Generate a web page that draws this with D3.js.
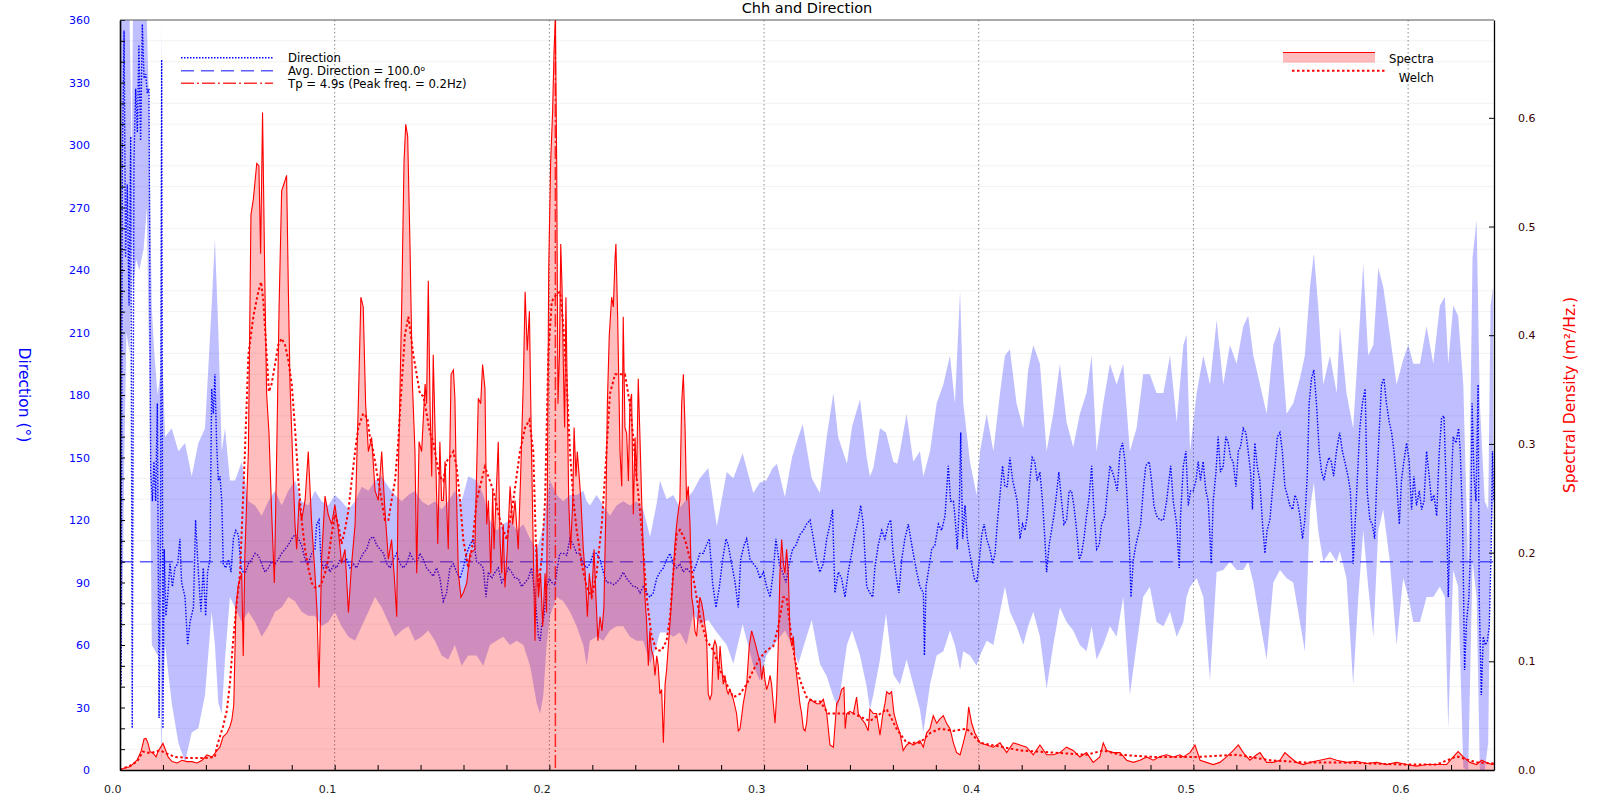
<!DOCTYPE html>
<html><head><meta charset="utf-8">
<script src="https://cdn.jsdelivr.net/npm/d3@7"></script>
<style>body{margin:0;background:#fff}svg{display:block}</style>
</head><body><svg id="c" width="1600" height="800"></svg>
<script>
// ---------- tick values / labels ----------
const freqTicks = [0,0.1,0.2,0.3,0.4,0.5,0.6];
const dirTicks = [0,30,60,90,120,150,180,210,240,270,300,330,360];
const specTicks = [0,0.1,0.2,0.3,0.4,0.5,0.6];
const titleText = "Chh and Direction";
const leftLegend = ["Direction","Avg. Direction = 100.0\u1d52","Tp = 4.9s (Peak freq. = 0.2Hz)"];
const rightLegend = ["Spectra","Welch"];
const avgDirection = [100];
const peakFreq = [0.2028];

// ---------- spectra [freq, m2/Hz] ----------
const spectraPts = [[0,0],[0.0023,0.002],[0.0047,0.003],[0.0079,0.009],[0.0098,0.017],[0.0112,0.0285],[0.0121,0.029],[0.0130,0.025],[0.0140,0.017],[0.0154,0.0155],[0.0168,0.012],[0.0177,0.017],[0.0191,0.0215],[0.0200,0.0245],[0.0210,0.0195],[0.0224,0.012],[0.0242,0.0077],[0.0266,0.0065],[0.0289,0.009],[0.0312,0.0077],[0.0335,0.0077],[0.0359,0.0065],[0.0382,0.009],[0.0405,0.0138],[0.0429,0.012],[0.0452,0.018],[0.0466,0.0215],[0.0480,0.0306],[0.0498,0.034],[0.0512,0.040],[0.0521,0.046],[0.0530,0.060],[0.0540,0.150],[0.0551,0.170],[0.0567,0.181],[0.0574,0.105],[0.0582,0.200],[0.0598,0.293],[0.0610,0.511],[0.0621,0.525],[0.0637,0.558],[0.0647,0.556],[0.0655,0.475],[0.0664,0.605],[0.0675,0.444],[0.0683,0.346],[0.0694,0.31],[0.0706,0.239],[0.0719,0.172],[0.0730,0.293],[0.0741,0.426],[0.0753,0.533],[0.0765,0.54],[0.0776,0.547],[0.0784,0.444],[0.0792,0.355],[0.0803,0.293],[0.0815,0.226],[0.0823,0.203],[0.0834,0.248],[0.0846,0.230],[0.0862,0.248],[0.0877,0.293],[0.0893,0.226],[0.0908,0.181],[0.0918,0.145],[0.0927,0.076],[0.0939,0.194],[0.0955,0.252],[0.0970,0.235],[0.0986,0.226],[0.1001,0.244],[0.1017,0.221],[0.1032,0.190],[0.1048,0.203],[0.1064,0.145],[0.1079,0.190],[0.1095,0.226],[0.1110,0.337],[0.1122,0.435],[0.1133,0.426],[0.1144,0.337],[0.1157,0.293],[0.1172,0.306],[0.1188,0.257],[0.1203,0.248],[0.1219,0.293],[0.1234,0.239],[0.1250,0.194],[0.1265,0.212],[0.1278,0.177],[0.1289,0.141],[0.1296,0.270],[0.1312,0.426],[0.1323,0.560],[0.1331,0.594],[0.1340,0.583],[0.1351,0.480],[0.1362,0.355],[0.1374,0.293],[0.1382,0.181],[0.1393,0.302],[0.1405,0.293],[0.1421,0.355],[0.1428,0.337],[0.1436,0.45],[0.1444,0.337],[0.1452,0.270],[0.1459,0.382],[0.1470,0.293],[0.1480,0.208],[0.1490,0.302],[0.1498,0.248],[0.1506,0.248],[0.1514,0.284],[0.1529,0.203],[0.1542,0.364],[0.1553,0.368],[0.1560,0.342],[0.1568,0.248],[0.1576,0.181],[0.1588,0.159],[0.1599,0.163],[0.1615,0.172],[0.1630,0.199],
[0.1653,0.203],[0.1669,0.342],[0.1680,0.337],[0.1689,0.373],[0.1700,0.351],[0.1708,0.226],[0.1716,0.248],[0.1727,0.181],[0.1736,0.257],[0.1742,0.203],[0.1751,0.248],[0.1762,0.302],[0.1770,0.212],[0.1778,0.181],[0.1785,0.226],[0.1793,0.168],[0.1804,0.203],[0.1817,0.261],[0.1829,0.226],[0.1840,0.248],[0.1855,0.203],[0.1866,0.270],[0.1879,0.360],[0.1887,0.440],[0.1897,0.386],[0.1907,0.422],[0.1916,0.302],[0.1925,0.203],[0.1933,0.119],[0.1941,0.208],[0.1949,0.159],[0.1959,0.181],[0.1969,0.132],[0.1980,0.181],[0.1987,0.145],[0.1997,0.462],[0.2006,0.560],[0.2015,0.605],[0.2022,0.663],[0.2028,0.69],[0.2034,0.560],[0.2040,0.337],[0.2047,0.382],[0.2053,0.484],[0.2059,0.444],[0.2065,0.373],[0.2071,0.315],[0.2077,0.435],[0.2084,0.337],[0.2090,0.248],[0.2099,0.203],[0.2109,0.248],[0.2115,0.315],[0.2124,0.270],[0.2130,0.293],[0.2139,0.270],[0.2147,0.248],[0.2158,0.203],[0.2167,0.181],[0.2177,0.141],[0.2186,0.181],[0.2197,0.159],[0.2208,0.203],[0.2217,0.159],[0.2226,0.119],[0.2236,0.141],[0.2245,0.128],[0.2254,0.150],[0.2264,0.248],[0.2270,0.337],[0.2279,0.400],[0.2290,0.435],[0.2298,0.426],[0.2306,0.471],[0.2310,0.484],[0.2318,0.417],[0.2329,0.293],[0.2337,0.261],[0.2344,0.417],[0.2352,0.315],[0.2360,0.310],[0.2368,0.266],[0.2375,0.337],[0.2383,0.346],[0.2391,0.235],[0.2399,0.306],[0.2406,0.266],[0.2414,0.360],[0.2422,0.306],[0.2430,0.248],[0.2437,0.203],[0.2445,0.159],[0.2453,0.136],[0.2461,0.096],[0.2468,0.128],[0.2476,0.110],[0.2484,0.105],[0.2492,0.087],[0.2500,0.105],[0.2507,0.096],[0.2515,0.070],[0.2523,0.074],[0.2531,0.025],[0.2539,0.079],[0.2546,0.092],[0.2554,0.114],[0.2562,0.136],[0.2570,0.159],[0.2577,0.181],[0.2585,0.208],[0.2593,0.226],[0.2601,0.239],[0.2608,0.248],[0.2616,0.337],[0.2624,0.364],[0.2632,0.315],[0.2639,0.248],[0.2647,0.261],[0.2655,0.226],[0.2663,0.159],[0.2670,0.150],[0.2678,0.128],[0.2686,0.123],[0.2694,0.145],[0.2701,0.159],[0.2709,0.154],[0.2717,0.145],[0.2725,0.132],[0.2732,0.123],[0.2740,0.070],[0.2748,0.065],[0.2756,0.070],[0.2764,0.114],[0.2771,0.119],[0.2779,0.114],[0.2787,0.083],[0.2795,0.114],[0.2802,0.096],[0.2810,0.079],[0.2818,0.087],[0.2826,0.074],[0.2833,0.070],[0.2841,0.074],[0.2857,0.065],[0.2872,0.052],[0.2880,0.036],[0.2888,0.038],[0.2896,0.050],[0.2903,0.061],[0.2919,0.079],[0.2931,0.114],[0.2942,0.128],[0.2950,0.123],[0.2962,0.114],[0.2973,0.105],[0.2981,0.101],[0.2989,0.083],[0.2997,0.096],[0.3004,0.083],[0.3012,0.074],[0.3020,0.079],[0.3028,0.087],[0.3035,0.079],[0.3043,0.061],[0.3051,0.043],[0.3059,0.070],[0.3066,0.114],[0.3074,0.181],[0.3082,0.212],[0.3090,0.190],[0.3097,0.181],[0.3105,0.203],[0.3113,0.181],[0.3121,0.123],[0.3129,0.114],[0.3136,0.123],[0.3144,0.101],[0.3152,0.087],[0.3160,0.074],[0.3167,0.061],[0.3175,0.052],[0.3183,0.038],[0.3191,0.036],[0.3198,0.043],[0.3206,0.061],[0.3214,0.065],[0.3230,0.063],[0.3245,0.061],
[0.3260,0.061],[0.3276,0.065],[0.3292,0.052],[0.3307,0.023],[0.3323,0.021],[0.3338,0.061],[0.3350,0.065],[0.3361,0.074],[0.3372,0.076],[0.3378,0.038],[0.3385,0.052],[0.3400,0.054],[0.3416,0.052],[0.3431,0.067],[0.3439,0.052],[0.3454,0.047],[0.3470,0.043],[0.3485,0.036],[0.3493,0.056],[0.3509,0.052],[0.3524,0.052],[0.3540,0.032],[0.3552,0.050],[0.3563,0.061],[0.3571,0.072],[0.3583,0.070],[0.3594,0.072],[0.3605,0.052],[0.3617,0.043],[0.3633,0.034],[0.3648,0.018],[0.3664,0.023],[0.3679,0.025],[0.3695,0.023],[0.3711,0.025],[0.3726,0.027],[0.3742,0.021],[0.3757,0.034],[0.3773,0.038],[0.3788,0.050],[0.3804,0.043],[0.3819,0.047],[0.3835,0.050],[0.3850,0.043],[0.3866,0.038],[0.3882,0.025],[0.3897,0.016],[0.3913,0.014],[0.3928,0.025],[0.3944,0.038],[0.3953,0.058],[0.3967,0.043],[0.3982,0.034],[0.4006,0.025],[0.4037,0.023],[0.4068,0.021],[0.4099,0.025],[0.4130,0.016],[0.4161,0.025],[0.4192,0.023],[0.4223,0.021],[0.4254,0.014],[0.4285,0.023],[0.4316,0.014],[0.4347,0.014],[0.4378,0.016],[0.4409,0.021],[0.4440,0.018],[0.4471,0.012],[0.4502,0.016],[0.4533,0.007],[0.4564,0.012],[0.4580,0.025],[0.4596,0.018],[0.4627,0.016],[0.4658,0.016],[0.4689,0.009],[0.4720,0.007],[0.4751,0.009],[0.4782,0.012],[0.4813,0.009],[0.4844,0.0125],[0.4875,0.014],[0.4906,0.012],[0.4937,0.014],
[0.4953,0.012],[0.4984,0.016],[0.5007,0.023],[0.5031,0.009],[0.5061,0.007],[0.5092,0.005],[0.5123,0.007],[0.5154,0.012],[0.5186,0.018],[0.5209,0.023],[0.5232,0.016],[0.5263,0.009],[0.5294,0.014],[0.5310,0.016],[0.5341,0.007],[0.5372,0.007],[0.5403,0.009],[0.5426,0.016],[0.5449,0.012],[0.5480,0.007],[0.5512,0.005],[0.5543,0.007],[0.5589,0.009],[0.5636,0.011],[0.5667,0.009],[0.5713,0.007],[0.5760,0.008],[0.5806,0.006],[0.5853,0.007],[0.5899,0.005],[0.5946,0.007],[0.5993,0.005],[0.6039,0.0036],[0.6086,0.005],[0.6133,0.005],[0.6179,0.005],[0.6210,0.012],[0.6233,0.017],[0.6257,0.012],[0.6288,0.007],[0.6319,0.005],[0.6342,0.009],[0.6365,0.007],[0.6389,0.005],[0.6399,0.005]];

// ---------- Welch estimate [freq, m2/Hz] ----------
const welchPts = [[0,0],[0.0047,0.004],[0.0079,0.0076],[0.0107,0.017],[0.0140,0.0155],[0.0186,0.018],[0.0219,0.015],[0.0256,0.012],[0.0326,0.011],[0.0400,0.011],[0.0442,0.012],[0.0452,0.022],[0.0480,0.040],[0.0498,0.055],[0.0512,0.080],[0.0526,0.117],[0.0545,0.156],[0.0559,0.181],[0.0582,0.293],[0.0598,0.382],[0.0621,0.417],[0.0644,0.440],[0.0657,0.449],[0.0668,0.431],[0.0683,0.382],[0.0694,0.348],[0.0706,0.355],[0.0722,0.373],[0.0737,0.391],[0.0753,0.397],[0.0769,0.391],[0.0784,0.377],[0.0800,0.355],[0.0815,0.315],[0.0831,0.266],[0.0846,0.230],[0.0862,0.203],[0.0877,0.186],[0.0893,0.172],[0.0908,0.168],[0.0924,0.168],[0.0939,0.172],[0.0955,0.181],[0.0970,0.194],[0.0986,0.217],[0.1001,0.235],[0.1017,0.226],[0.1032,0.208],[0.1048,0.221],[0.1064,0.239],[0.1079,0.266],[0.1095,0.293],[0.1110,0.315],[0.1133,0.328],[0.1152,0.324],[0.1164,0.306],[0.1180,0.293],[0.1203,0.266],[0.1219,0.248],[0.1234,0.230],[0.1250,0.230],[0.1265,0.248],[0.1281,0.266],[0.1296,0.302],[0.1312,0.355],[0.1327,0.400],[0.1343,0.417],[0.1355,0.400],[0.1366,0.382],[0.1382,0.364],[0.1397,0.346],[0.1413,0.344],[0.1428,0.328],[0.1444,0.310],[0.1459,0.302],[0.1475,0.284],[0.1490,0.270],[0.1506,0.266],[0.1521,0.284],[0.1537,0.288],[0.1553,0.293],[0.1568,0.279],[0.1584,0.248],[0.1599,0.212],[0.1622,0.186],[0.1640,0.205],[0.1661,0.248],[0.1700,0.279],[0.1739,0.257],[0.1770,0.230],[0.1801,0.212],[0.1832,0.248],[0.1863,0.293],[0.1887,0.315],[0.1907,0.322],[0.1925,0.293],[0.1938,0.203],[0.1949,0.168],[0.1964,0.194],[0.1980,0.248],[0.1995,0.382],[0.2011,0.431],[0.2034,0.438],[0.2050,0.440],[0.2065,0.409],[0.2081,0.355],[0.2096,0.293],[0.2112,0.248],[0.2127,0.221],[0.2150,0.190],[0.2174,0.168],[0.2197,0.159],[0.2220,0.181],[0.2244,0.226],[0.2259,0.270],[0.2282,0.346],[0.2306,0.364],[0.2337,0.364],[0.2352,0.364],[0.2375,0.337],[0.2391,0.306],[0.2406,0.270],[0.2422,0.239],[0.2437,0.203],[0.2453,0.159],[0.2476,0.123],[0.2500,0.110],[0.2523,0.110],[0.2546,0.119],[0.2562,0.141],[0.2577,0.181],[0.2593,0.217],[0.2608,0.221],[0.2632,0.212],[0.2655,0.194],[0.2678,0.168],[0.2701,0.141],[0.2732,0.119],[0.2764,0.110],[0.2795,0.092],[0.2826,0.079],[0.2857,0.067],[0.2888,0.070],[0.2919,0.079],[0.2950,0.092],[0.2981,0.103],[0.3012,0.110],[0.3043,0.114],[0.3066,0.132],[0.3090,0.159],[0.3105,0.159],[0.3121,0.132],[0.3144,0.101],[0.3167,0.083],[0.3198,0.067],[0.3230,0.063],[0.3261,0.063],[0.3299,0.052],[0.3354,0.052],[0.3416,0.052],[0.3493,0.045],[0.3571,0.056],[0.3617,0.038],[0.3664,0.025],[0.3726,0.025],[0.3773,0.034],[0.3819,0.038],[0.3882,0.036],[0.3944,0.038],[0.4006,0.025],[0.4115,0.021],[0.4192,0.018],[0.4347,0.016],[0.4502,0.014],[0.4580,0.018],[0.4658,0.014],[0.4813,0.012],[0.4937,0.012],[0.5015,0.012],[0.5201,0.014],[0.5357,0.009],[0.5512,0.007],[0.5667,0.007],[0.5822,0.006],[0.5977,0.005],[0.6133,0.005],[0.6226,0.0125],[0.6319,0.007],[0.6399,0.006]];

// ---------- mean direction [freq, deg] ----------
const directionPts = [[0.0005,41],[0.0011,292],[0.0019,355],[0.0026,246],[0.0034,281],[0.0042,223],[0.0050,304],[0.0057,20],[0.0065,292],[0.0073,327],[0.0081,306],[0.0088,348],[0.0096,302],[0.0104,358],[0.0112,332],[0.0120,334],[0.0127,325],[0.0135,327],[0.0143,143],[0.0151,129],[0.0158,148],[0.0166,129],[0.0174,176],[0.0182,25],[0.0189,118],[0.0194,341],[0.0200,20],[0.0206,106],[0.0214,74],[0.0222,83],[0.0233,99],[0.0244,88],[0.0256,97],[0.0269,99],[0.0279,111],[0.0287,90],[0.0303,83],[0.0315,60],[0.0326,71],[0.0342,78],[0.0352,120],[0.0365,95],[0.0377,76],[0.0388,97],[0.0399,74],[0.0408,95],[0.0419,101],[0.0427,183],[0.0435,171],[0.0442,190],[0.0450,157],[0.0458,139],[0.0466,141],[0.0474,129],[0.0481,99],[0.0492,97],[0.0505,101],[0.0517,95],[0.0528,111],[0.0539,115],[0.0551,113],[0.0564,97],[0.0574,95],[0.0585,95],[0.0598,99],[0.0613,101],[0.0629,104],[0.0644,103],[0.0660,99],[0.0675,95],[0.0691,97],[0.0706,100],[0.0722,99],[0.0737,101],[0.0753,104],[0.0769,106],[0.0784,108],[0.0800,111],[0.0815,113],[0.0831,111],[0.0846,108],[0.0862,101],[0.0877,99],[0.0893,104],[0.0908,106],[0.0916,118],[0.0927,120],[0.0936,101],[0.0947,97],[0.0963,99],[0.0978,95],[0.0994,98],[0.1009,97],[0.1025,101],[0.1040,100],[0.1056,101],[0.1071,97],[0.1087,99],[0.1102,97],[0.1118,101],[0.1133,104],[0.1149,106],[0.1164,111],[0.1180,112],[0.1195,108],[0.1211,106],[0.1227,104],[0.1242,99],[0.1258,97],[0.1273,101],[0.1289,104],[0.1304,99],[0.1320,97],[0.1335,99],[0.1351,104],[0.1366,101],[0.1382,99],[0.1397,104],[0.1413,101],[0.1428,97],[0.1444,95],[0.1459,93],[0.1475,97],[0.1490,92],[0.1506,81],[0.1521,85],[0.1537,97],[0.1553,99],[0.1568,95],[0.1584,92],[0.1599,97],[0.1615,104],[0.1630,108],[0.1646,111],
[0.1661,100],[0.1677,99],[0.1692,97],[0.1705,83],[0.1716,95],[0.1731,92],[0.1747,95],[0.1762,97],[0.1778,90],[0.1793,93],[0.1809,97],[0.1824,95],[0.1840,92],[0.1855,92],[0.1871,88],[0.1887,90],[0.1902,92],[0.1917,97],[0.1928,88],[0.1938,78],[0.1949,64],[0.1957,62],[0.1964,69],[0.1975,74],[0.1987,88],[0.2000,92],[0.2011,90],[0.2026,89],[0.2037,97],[0.2049,104],[0.2065,104],[0.2081,103],[0.2096,111],[0.2112,108],[0.2127,104],[0.2142,104],[0.2158,99],[0.2174,97],[0.2189,99],[0.2205,104],[0.2220,104],[0.2236,101],[0.2251,95],[0.2267,90],[0.2282,90],[0.2298,89],[0.2313,90],[0.2329,92],[0.2344,95],[0.2360,92],[0.2375,90],[0.2391,88],[0.2406,88],[0.2422,85],[0.2437,88],[0.2453,85],[0.2468,83],[0.2484,85],[0.2500,92],[0.2515,95],[0.2531,97],[0.2546,101],[0.2562,104],[0.2577,99],[0.2593,97],[0.2608,99],[0.2624,95],[0.2639,97],[0.2655,95],[0.2670,95],[0.2686,99],[0.2701,104],[0.2717,104],[0.2732,108],[0.2745,111],[0.2760,90],[0.2776,78],[0.2792,88],[0.2807,101],[0.2823,111],[0.2833,108],[0.2849,99],[0.2865,90],[0.2880,78],[0.2891,101],[0.2907,108],[0.2919,111],[0.2935,101],[0.2950,99],[0.2966,97],[0.2981,92],[0.2997,95],[0.3012,88],[0.3028,83],[0.3043,95],[0.3055,111],[0.3071,99],[0.3086,95],[0.3102,90],[0.3117,99],[0.3133,106],[0.3149,108],[0.3167,113],[0.3183,115],[0.3198,118],[0.3214,120],[0.3230,111],[0.3245,101],
[0.3260,95],[0.3276,99],[0.3292,111],[0.3307,118],[0.3319,125],[0.3330,85],[0.3346,95],[0.3361,92],[0.3377,83],[0.3392,95],[0.3408,104],[0.3423,113],[0.3439,120],[0.3450,127],[0.3462,118],[0.3478,88],[0.3493,85],[0.3506,83],[0.3516,97],[0.3532,108],[0.3548,115],[0.3563,111],[0.3579,118],[0.3590,120],[0.3601,104],[0.3617,92],[0.3628,85],[0.3641,101],[0.3656,111],[0.3672,118],[0.3683,111],[0.3695,104],[0.3711,95],[0.3726,88],[0.3742,85],[0.3747,55],[0.3754,88],[0.3765,95],[0.3781,106],[0.3796,108],[0.3812,118],[0.3827,115],[0.3843,122],[0.3858,146],[0.3869,129],[0.3882,129],[0.3889,122],[0.3900,106],[0.3910,129],[0.3916,162],[0.3925,111],[0.3936,127],[0.3947,111],[0.3963,101],[0.3979,92],[0.3991,90],[0.4003,101],[0.4014,113],[0.4025,118],[0.4037,111],[0.4052,106],[0.4065,99],[0.4076,104],[0.4086,118],[0.4099,132],[0.4111,146],[0.4122,136],[0.4133,136],[0.4145,150],[0.4158,139],[0.4169,134],[0.4179,129],[0.4192,111],[0.4204,118],[0.4215,115],[0.4226,122],[0.4238,139],[0.4249,150],[0.4261,148],[0.4272,139],[0.4285,143],[0.4297,129],[0.4308,111],[0.4316,95],[0.4328,108],[0.4339,115],[0.4350,122],[0.4362,132],[0.4373,143],[0.4386,129],[0.4397,118],[0.4409,120],[0.4421,134],[0.4432,134],[0.4443,127],[0.4456,115],[0.4468,101],[0.4479,104],[0.4490,111],[0.4502,122],[0.4515,132],[0.4526,146],[0.4536,125],[0.4549,106],[0.4561,108],[0.4572,118],[0.4588,122],[0.4599,134],[0.4611,146],[0.4623,143],[0.4634,139],[0.4645,134],[0.4658,153],[0.4670,157],[0.4681,148],[0.4692,129],[0.4701,111],[0.4709,83],[0.4720,101],[0.4732,108],[0.4743,113],[0.4754,118],[0.4766,134],[0.4778,146],[0.4794,148],[0.4805,139],[0.4816,127],[0.4828,122],[0.4844,120],[0.4860,120],[0.4875,129],[0.4894,146],[0.4906,129],[0.4922,118],[0.4934,97],
[0.4940,122],[0.4953,146],[0.4965,153],[0.4976,127],[0.4987,134],[0.4999,134],[0.5012,139],[0.5022,148],[0.5033,139],[0.5045,148],[0.5058,134],[0.5069,129],[0.5083,99],[0.5092,129],[0.5105,143],[0.5115,160],[0.5126,143],[0.5139,146],[0.5151,160],[0.5162,157],[0.5173,150],[0.5185,148],[0.5198,136],[0.5209,153],[0.5219,155],[0.5232,164],[0.5244,162],[0.5255,153],[0.5266,143],[0.5275,125],[0.5286,157],[0.5297,146],[0.5309,139],[0.5322,118],[0.5333,104],[0.5343,115],[0.5356,120],[0.5368,134],[0.5380,146],[0.5391,160],[0.5403,162],[0.5414,153],[0.5426,136],[0.5437,132],[0.5449,127],[0.5462,125],[0.5473,132],[0.5484,129],[0.5496,122],[0.5508,111],[0.5519,120],[0.5530,141],[0.5539,176],[0.5550,188],[0.5561,192],[0.5573,176],[0.5586,153],[0.5597,143],[0.5608,139],[0.5620,146],[0.5631,150],[0.5642,148],[0.5653,141],[0.5666,153],[0.5681,162],[0.5694,153],[0.5705,148],[0.5720,141],[0.5731,134],[0.5744,99],[0.5753,118],[0.5764,141],[0.5775,164],[0.5787,176],[0.5800,183],[0.5809,134],[0.5822,120],[0.5833,118],[0.5844,111],[0.5853,136],[0.5866,164],[0.5876,185],[0.5887,188],[0.5899,176],[0.5912,167],[0.5923,162],[0.5934,153],[0.5946,139],[0.5959,118],[0.5969,139],[0.5980,148],[0.5993,157],[0.6005,148],[0.6016,125],[0.6027,141],[0.6039,127],[0.6052,134],[0.6063,125],[0.6074,129],[0.6086,153],[0.6098,141],[0.6109,129],[0.6120,132],[0.6133,122],[0.6145,153],[0.6156,169],[0.6167,170],[0.6176,141],[0.6187,83],[0.6198,129],[0.6210,160],[0.6223,157],[0.6235,164],[0.6243,153],[0.6254,118],[0.6263,48],[0.6272,71],[0.6283,83],[0.6291,106],[0.6298,176],[0.6307,141],[0.6316,129],[0.6326,185],[0.6331,83],[0.6341,36],[0.6350,64],[0.6360,60],[0.6369,62],[0.6378,69],[0.6387,106],[0.6393,153],[0.6399,129]];

// ---------- direction spread band [freq, low deg, high deg] ----------
const bandPts = [[0,40,360],[0.001,60,360],[0.002,150,360],[0.003,210,360],[0.0045,200,360],[0.0055,260,290],[0.006,230,360],[0.0075,245,360],[0.009,240,360],[0.011,250,360],[0.0125,270,360],[0.0135,200,320],[0.0148,60,222],[0.016,58,200],[0.0175,55,180],[0.0188,60,190],[0.0192,0,360],[0.0197,30,200],[0.021,60,160],[0.0241,32,164],[0.0272,13,153],[0.0303,4,157],[0.0334,18,141],[0.0365,20,157],[0.0396,36,164],[0.0427,76,223],[0.0442,60,255],[0.0458,32,211],[0.0474,27,153],[0.0489,53,164],[0.0512,83,139],[0.0536,78,139],[0.0567,71,148],[0.0598,76,129],[0.0629,71,127],[0.0660,64,122],[0.0691,69,129],[0.0722,76,134],[0.0753,78,127],[0.0784,83,134],[0.0815,81,139],[0.0846,76,129],[0.0877,74,127],[0.0908,74,134],[0.0939,69,129],[0.0970,71,127],[0.1001,76,132],[0.1032,69,129],[0.1064,64,125],[0.1095,62,129],[0.1126,69,136],[0.1157,76,134],[0.1188,83,139],[0.1219,78,141],[0.1250,71,136],[0.1281,64,132],[0.1312,67,129],[0.1343,69,132],[0.1374,62,134],[0.1405,64,129],[0.1436,67,127],[0.1467,62,129],[0.1498,55,125],[0.1529,53,129],[0.1560,60,134],[0.1591,50,129],[0.1622,55,141],[0.1661,55,139],[0.1692,50,132],[0.1723,60,120],[0.1754,62,115],[0.1785,64,118],[0.1817,60,120],[0.1848,62,115],[0.1879,60,118],[0.1910,50,111],[0.1941,32,106],[0.1957,27,111],[0.1972,36,118],[0.1987,60,129],[0.2003,74,139],[0.2034,83,132],[0.2065,81,129],[0.2096,76,132],[0.2127,69,132],[0.2158,60,134],[0.2174,50,129],[0.2189,62,127],[0.2220,64,132],[0.2251,62,127],[0.2282,67,122],[0.2313,69,127],[0.2344,69,129],[0.2375,64,127],[0.2406,62,129],
[0.2437,62,125],[0.2469,51,112],[0.2500,60,128],[0.2515,66,139],[0.2546,66,130],[0.2577,64,132],[0.2608,66,126],[0.2639,60,130],[0.2670,75,134],[0.2701,70,140],[0.2740,72,145],[0.2780,66,117],[0.2826,60,143],[0.2857,51,140],[0.2900,70,152],[0.2950,50,133],[0.2980,43,138],[0.3010,55,139],[0.3040,59,145],[0.3060,62,147],[0.3097,67,131],[0.3130,60,150],[0.3160,51,160],[0.3180,58,166],[0.3222,72,140],[0.3260,51,133],[0.3292,45,160],[0.3323,35,181],[0.3345,30,160],[0.3386,60,147],[0.3410,67,165],[0.3447,55,178],[0.3478,40,150],[0.3493,29,141],[0.3509,36,145],[0.3540,53,164],[0.3568,75,162],[0.3602,46,148],[0.3620,43,147],[0.3633,41,153],
[0.3664,53,171],[0.3695,41,148],[0.3726,29,153],[0.3742,18,141],[0.3773,41,153],[0.3804,55,176],[0.3835,57,185],[0.3866,67,199],[0.3889,60,176],[0.3913,48,230],[0.3928,57,176],[0.3959,55,148],[0.3990,50,132],[0.4006,55,153],[0.4037,62,171],[0.4068,60,153],[0.4099,76,181],[0.4122,88,199],[0.4145,76,202],[0.4176,69,176],[0.4207,60,164],[0.4230,69,192],[0.4254,76,204],[0.4285,64,195],[0.4316,39,153],[0.4347,60,171],[0.4378,78,195],[0.4409,71,167],[0.4440,67,155],[0.4471,60,171],[0.4502,57,181],[0.4526,69,199],[0.4549,53,153],[0.4580,60,176],[0.4611,69,195],[0.4642,64,185],[0.4673,83,195],[0.4704,36,153],[0.4735,60,164],[0.4766,83,190],[0.4797,88,190],[0.4828,71,181],[0.4860,69,181],[0.4891,76,199],[0.4922,64,167],
[0.4953,71,204],[0.4968,83,209],[0.4984,88,153],[0.5015,92,181],[0.5046,83,199],[0.5077,43,185],[0.5108,95,216],[0.5139,96,185],[0.5170,100,204],[0.5201,96,195],[0.5232,96,213],[0.5255,100,218],[0.5279,90,199],[0.5310,71,185],[0.5341,53,171],[0.5372,90,204],[0.5403,96,213],[0.5434,92,171],[0.5465,90,176],[0.5496,71,188],[0.5519,57,199],[0.5543,125,232],[0.5561,138,248],[0.5581,115,223],[0.5605,100,185],[0.5636,105,199],[0.5667,100,181],[0.5682,105,213],[0.5713,92,181],[0.5744,41,164],[0.5768,83,204],[0.5791,115,243],[0.5814,88,199],[0.5838,64,204],[0.5861,115,241],[0.5884,125,232],[0.5915,100,209],[0.5946,60,185],[0.5977,92,197],[0.6001,83,204],[0.6024,71,195],[0.6055,71,195],[0.6086,83,213],[0.6117,83,195],[0.6148,88,223],[0.6171,83,227],[0.6187,20,195],[0.6210,96,223],[0.6233,88,218],[0.6257,1,185],[0.6280,0,95],[0.6300,100,246],[0.6319,83,264],[0.6334,0,176],[0.6357,0,129],[0.6373,13,125],[0.6384,106,223],[0.6396,129,232]];

// ---------- layout ----------
const L = 120, R = 1494, T = 20, B = 770;
const FONT = "DejaVu Sans, Verdana, sans-serif";
const svg = d3.select("#c");
svg.append("rect").attr("width",1600).attr("height",800).attr("fill","#fff");

const x = d3.scaleLinear().domain([0,0.64]).range([L,R]);
const yD = d3.scaleLinear().domain([0,360]).range([B,T]);
const yS = d3.scaleLinear().domain([0,0.69]).range([B,T]);

svg.append("defs").append("clipPath").attr("id","clip")
  .append("rect").attr("x",L).attr("y",T).attr("width",R-L).attr("height",B-T);

// faint minor horizontal grid (every 10 deg except the 30 deg majors)
const minorDir = d3.range(10,360,10).filter(v => v % 30 !== 0);
svg.append("g").selectAll("line").data(minorDir).join("line")
  .attr("x1",L).attr("x2",R).attr("y1",d=>yD(d)).attr("y2",d=>yD(d))
  .attr("stroke","#f2f2f2").attr("stroke-width",1);

// vertical dotted grid
svg.append("g").selectAll("line").data(freqTicks.filter(v=>v>0)).join("line")
  .attr("x1",d=>x(d)).attr("x2",d=>x(d)).attr("y1",T).attr("y2",B)
  .attr("stroke","#8a8a8a").attr("stroke-width",1).attr("stroke-dasharray","1.5,2.5");

const plot = svg.append("g").attr("clip-path","url(#clip)");

// direction band
plot.append("path").datum(bandPts)
  .attr("d", d3.area().x(d=>x(d[0])).y0(d=>yD(d[1])).y1(d=>yD(d[2])))
  .attr("fill","rgba(0,0,255,0.25)").attr("stroke","none");

// direction line
plot.append("path").datum(directionPts)
  .attr("d", d3.line().x(d=>x(d[0])).y(d=>yD(d[1])))
  .attr("fill","none").attr("stroke","#0000ff").attr("stroke-width",1.4)
  .attr("stroke-dasharray","1.5,1.5");

// average direction
plot.append("g").selectAll("line").data(avgDirection).join("line")
  .attr("x1",L).attr("x2",R).attr("y1",d=>yD(d)).attr("y2",d=>yD(d))
  .attr("stroke","rgba(40,40,255,0.75)").attr("stroke-width",1.5).attr("stroke-dasharray","13,7");

// spectra fill + line
plot.append("path").datum(spectraPts)
  .attr("d", d3.area().x(d=>x(d[0])).y0(B).y1(d=>yS(d[1])))
  .attr("fill","rgba(255,0,0,0.26)").attr("stroke","none");
plot.append("path").datum(spectraPts)
  .attr("d", d3.line().x(d=>x(d[0])).y(d=>yS(d[1])))
  .attr("fill","none").attr("stroke","#ff0000").attr("stroke-width",1.1);

// welch
plot.append("path").datum(welchPts)
  .attr("d", d3.line().x(d=>x(d[0])).y(d=>yS(d[1])))
  .attr("fill","none").attr("stroke","#ff0000").attr("stroke-width",2)
  .attr("stroke-dasharray","2.5,2.5");

// Tp line
plot.append("g").selectAll("line").data(peakFreq).join("line")
  .attr("x1",d=>x(d)).attr("x2",d=>x(d)).attr("y1",T).attr("y2",B)
  .attr("stroke","rgba(255,0,0,0.8)").attr("stroke-width",1.5).attr("stroke-dasharray","13,3,2,3");

// ---------- axes ----------
const fmt1 = d3.format(".1f");
const isMajorF = d => Math.abs(d*10 - Math.round(d*10)) < 1e-6;
const gx = svg.append("g").attr("transform",`translate(0,${B})`)
  .call(d3.axisBottom(x).tickValues(d3.range(0,33).map(i=>i*0.02))
        .tickSizeInner(-5).tickSizeOuter(0)
        .tickFormat(d => isMajorF(d) ? fmt1(d) : ""));
gx.attr("font-family",FONT).attr("font-size",11).attr("color","#000");
gx.selectAll("text").attr("text-anchor","end").attr("x",1).attr("y",23).attr("dy",null).attr("fill","#222");
gx.select(".domain").attr("stroke-width",1.3);

const gl = svg.append("g").attr("transform",`translate(${L},0)`)
  .call(d3.axisLeft(yD).tickValues(d3.range(0,361,10))
        .tickSizeInner(-5).tickSizeOuter(0).tickPadding(30)
        .tickFormat(d => dirTicks.includes(d) ? d : ""));
gl.attr("font-family",FONT).attr("font-size",11).attr("color","#000");
gl.selectAll("text").attr("fill","#0000ff");
gl.select(".domain").attr("stroke-width",1.6);

const gr = svg.append("g").attr("transform",`translate(${R},0)`)
  .call(d3.axisRight(yS).tickValues(specTicks)
        .tickSizeInner(-5).tickSizeOuter(0).tickPadding(24).tickFormat(fmt1));
gr.attr("font-family",FONT).attr("font-size",11).attr("color","#000");
gr.selectAll("text").attr("fill","#3a0000");
gr.select(".domain").attr("stroke-width",1.3);

// top border
svg.append("line").attr("x1",L).attr("x2",R).attr("y1",T).attr("y2",T)
  .attr("stroke","#555").attr("stroke-width",1);

// ---------- titles ----------
svg.append("text").attr("x",(L+R)/2).attr("y",13).attr("text-anchor","middle")
  .attr("font-family",FONT).attr("font-size",14.5).attr("fill","#000").text(titleText);
svg.append("text").attr("transform","translate(18.5,395) rotate(90)").attr("text-anchor","middle")
  .attr("font-family",FONT).attr("font-size",15.5).attr("fill","#0000ff").text("Direction (\u00b0)");
svg.append("text").attr("transform","translate(1575,395) rotate(-90)").attr("text-anchor","middle")
  .attr("font-family",FONT).attr("font-size",15.5).attr("fill","#ff0000").text("Spectral Density (m\u00b2/Hz.)");

// ---------- legends ----------
const lg = svg.append("g").attr("font-family",FONT).attr("font-size",11.7).attr("fill","#000");
const leftStyles = [
  {stroke:"#0000ff", dash:"1.5,1.5", w:1.4},
  {stroke:"rgba(40,40,255,0.75)", dash:"13,7", w:1.5},
  {stroke:"rgba(255,0,0,0.8)", dash:"13,3,2,3", w:1.5}
];
const leftRows = [57.7, 70.7, 83.3];
leftLegend.forEach((t,i)=>{
  lg.append("line").attr("x1",181).attr("x2",273).attr("y1",leftRows[i]).attr("y2",leftRows[i])
    .attr("stroke",leftStyles[i].stroke).attr("stroke-width",leftStyles[i].w).attr("stroke-dasharray",leftStyles[i].dash);
  lg.append("text").attr("x",288).attr("y",leftRows[i]+4.2).text(t);
});
// right legend
lg.append("rect").attr("x",1283).attr("y",52.3).attr("width",92).attr("height",10.4).attr("fill","rgba(255,0,0,0.26)");
lg.append("line").attr("x1",1283).attr("x2",1375).attr("y1",52.5).attr("y2",52.5).attr("stroke","#ff0000").attr("stroke-width",1.2);
lg.append("text").attr("x",1434).attr("y",62.5).attr("text-anchor","end").text(rightLegend[0]);
lg.append("line").attr("x1",1292).attr("x2",1385).attr("y1",70.7).attr("y2",70.7)
  .attr("stroke","#ff0000").attr("stroke-width",2).attr("stroke-dasharray","2.5,2.5");
lg.append("text").attr("x",1434).attr("y",81.5).attr("text-anchor","end").text(rightLegend[1]);
</script></body></html>
